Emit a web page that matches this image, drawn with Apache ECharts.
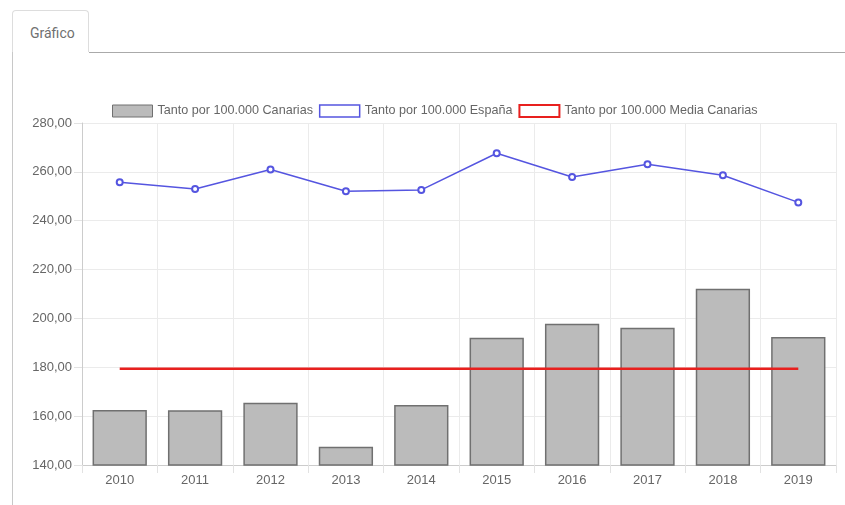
<!DOCTYPE html>
<html>
<head>
<meta charset="utf-8">
<script src="https://cdn.jsdelivr.net/npm/echarts@6/dist/echarts.min.js"></script>
<style>
  html, body { margin: 0; padding: 0; background: #fff; }
  .tab {
    position: absolute; left: 12px; top: 10px; width: 77px; height: 42px;
    border: 1px solid #ddd; border-bottom: none; border-radius: 4px 4px 0 0;
    background: #fff; font-family: Roboto, "Liberation Sans", sans-serif;
    font-size: 14px; color: #707070; line-height: 44px; text-indent: 17px;
    box-sizing: border-box;
  }
  .tab-line { position: absolute; left: 89px; right: 0; top: 52px; height: 1px; background: #aaa; }
  .pane-line { position: absolute; left: 12px; top: 52px; bottom: 0; width: 1px; background: #c8c8c8; }
  #chart { position: absolute; left: 0; top: 0; width: 845px; height: 505px; }
</style>
</head>
<body>
<div class="tab">Gráfico</div>
<div class="tab-line"></div>
<div class="pane-line"></div>
<div id="chart"></div>
<script>
const years = ['2010', '2011', '2012', '2013', '2014', '2015', '2016', '2017', '2018', '2019']
const canarias = [162.5, 162.4, 165.5, 147.5, 164.6, 192.1, 197.8, 196.2, 212.2, 192.4]
const espana = [255.7, 253.0, 261.0, 252.1, 252.6, 267.6, 257.9, 263.1, 258.6, 247.5]
const mediaCanarias = [179.4, 179.4, 179.4, 179.4, 179.4, 179.4, 179.4, 179.4, 179.4, 179.4]
const names = ['Tanto por 100.000 Canarias', 'Tanto por 100.000 España', 'Tanto por 100.000 Media Canarias']

const font = '"Liberation Sans", Arial, sans-serif'
const chart = echarts.init(document.getElementById('chart'))

chart.setOption({
  animation: false,
  textStyle: { fontFamily: font },
  legend: {
    left: 107,
    top: 99,
    itemWidth: 40,
    itemHeight: 12,
    itemGap: 6,
    icon: 'rect',
    textStyle: { color: '#666', fontSize: 12.6, fontFamily: font },
    data: [
      { name: names[0], itemStyle: { color: '#bbbbbb', borderColor: '#707070', borderWidth: 1 } },
      { name: names[1], itemStyle: { color: '#fff', borderColor: '#5555e0', borderWidth: 1.5 } },
      { name: names[2], itemStyle: { color: '#fff', borderColor: '#e8201e', borderWidth: 2 } },
    ],
  },
  grid: { left: 82, right: 9, top: 123, bottom: 40 },
  xAxis: {
    type: 'category',
    data: years,
    axisLine: { lineStyle: { color: '#ccc' } },
    axisTick: { show: true, length: 8, lineStyle: { color: '#e2e2e2' } },
    splitLine: { show: true, lineStyle: { color: '#ebebeb' } },
    axisLabel: { color: '#666', fontSize: 13, margin: 9 },
  },
  yAxis: {
    type: 'value',
    min: 140,
    max: 280,
    interval: 20,
    axisLine: { show: true, lineStyle: { color: '#ccc' } },
    axisTick: { show: true, length: 8, lineStyle: { color: '#e2e2e2' } },
    splitLine: { lineStyle: { color: '#ebebeb' } },
    axisLabel: {
      color: '#666', fontSize: 13, margin: 10,
      formatter: (v) => v.toFixed(2).replace('.', ','),
    },
  },
  series: [
    {
      name: names[0],
      type: 'bar',
      data: canarias,
      barCategoryGap: '28%',
      itemStyle: { color: '#bbbbbb', borderColor: '#707070', borderWidth: 1.5 },
      z: 1,
    },
    {
      name: names[1],
      type: 'line',
      data: espana,
      symbol: 'emptyCircle',
      symbolSize: 6,
      lineStyle: { color: '#5555e0', width: 1.5 },
      itemStyle: { color: '#5555e0', borderWidth: 1.2 },
      z: 3,
    },
    {
      name: names[2],
      type: 'line',
      data: mediaCanarias,
      symbol: 'none',
      lineStyle: { color: '#e8201e', width: 2.5 },
      itemStyle: { color: '#e8201e' },
      z: 2,
    },
  ],
})
</script>
</body>
</html>
